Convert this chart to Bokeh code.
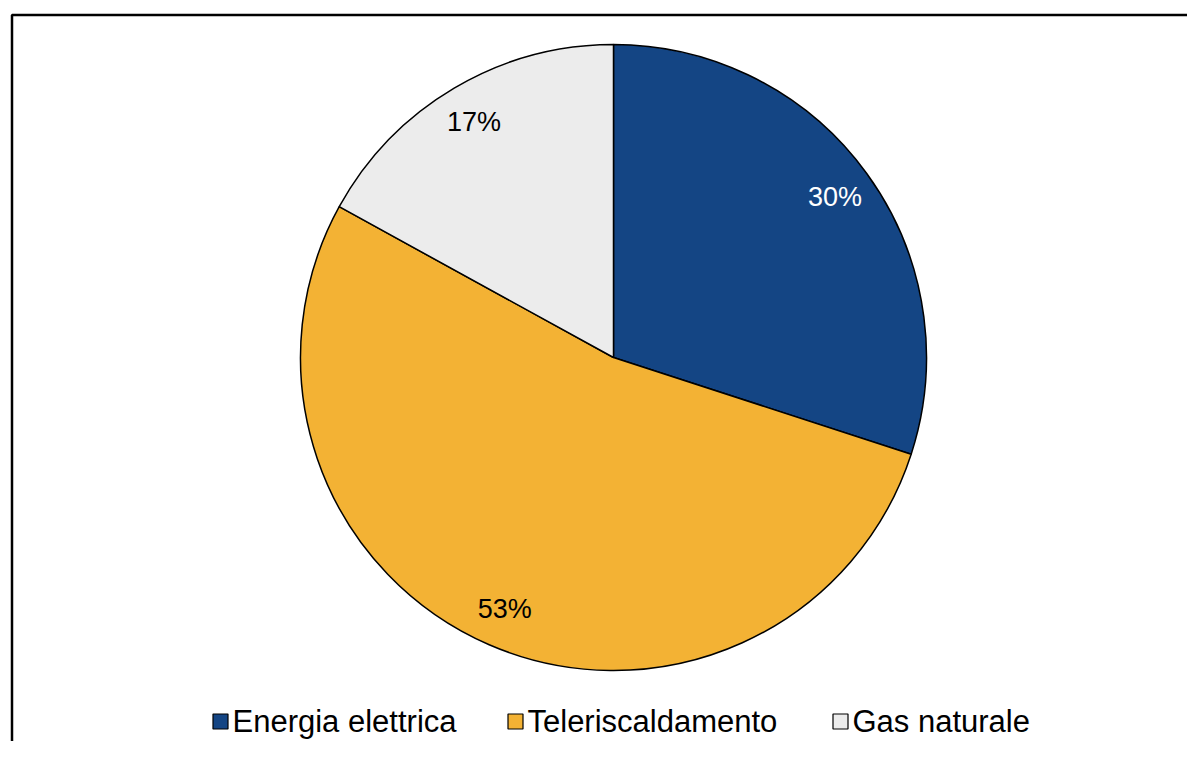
import numpy as np
from bokeh.plotting import figure
from bokeh.models import Range1d, ColumnDataSource
from bokeh.core.properties import value
from bokeh.embed import file_html
from bokeh.resources import INLINE

categories = ["Energia elettrica", "Teleriscaldamento", "Gas naturale"]
shares = [30, 53, 17]
colors = ["#144584", "#F3B234", "#ECECEC"]
label_colors = ["white", "black", "black"]

W, H = 1187, 741
FONT = value("Liberation Sans")

p = figure(width=W, height=H, output_backend="svg", toolbar_location=None,
           x_range=Range1d(0, W), y_range=Range1d(0, H), min_border=0)
p.axis.visible = False
p.grid.visible = False
p.outline_line_color = None
p.background_fill_color = "white"
p.border_fill_color = "white"

def cy(y):
    # canvas y (top-down) to data y
    return H - y

# outer frame (right and bottom edges fall outside the picture)
p.quad(left=[11.5], right=[W + 20], top=[cy(14.5)], bottom=[cy(H + 20)],
       fill_color=None, line_color="black", line_width=2.5)

cx0, cy0, R = 613, cy(357), 313
vals = np.array(shares, dtype=float)
frac = vals / vals.sum()
cum = np.concatenate([[0], np.cumsum(frac)])
start = np.pi / 2 - 2 * np.pi * cum[:-1]
end = np.pi / 2 - 2 * np.pi * cum[1:]
mid = (start + end) / 2

src = ColumnDataSource(dict(start=start, end=end, color=colors,
                            cat=categories))
p.wedge(x=cx0, y=cy0, radius=R, start_angle="start", end_angle="end",
        direction="clock", fill_color="color", line_color="black",
        line_width=1.5, source=src)

lr = 0.875 * R
lsrc = ColumnDataSource(dict(x=cx0 + lr * np.cos(mid), y=cy0 + lr * np.sin(mid),
                             t=[f"{v:.0f}%" for v in shares], c=label_colors))
p.text(x="x", y="y", text="t", text_color="c", source=lsrc,
       text_font=FONT, text_font_size="27px", text_align="center",
       text_baseline="middle")

# legend
leg_marker_x = [220, 515, 840]
leg_y = cy(721)
p.rect(x=leg_marker_x, y=[leg_y] * 3, width=15, height=15,
       fill_color=colors, line_color="black", line_width=1.2)
p.text(x=[m + 12 for m in leg_marker_x], y=[leg_y] * 3, text=categories,
       text_font=FONT, text_font_size="31px", text_color="black",
       text_align="left", text_baseline="middle")

open("out.html", "w").write(file_html(p, INLINE))
